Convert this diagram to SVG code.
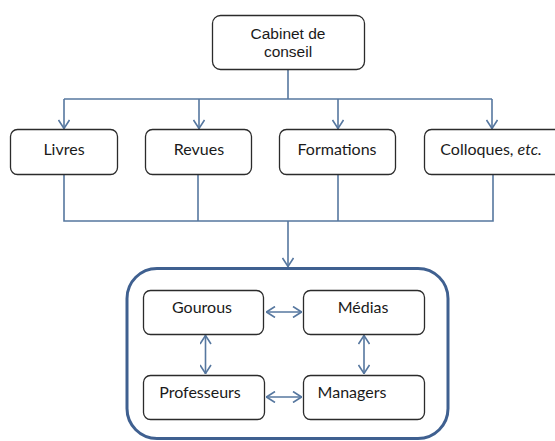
<svg xmlns="http://www.w3.org/2000/svg" width="555" height="441" viewBox="0 0 555 441">
<style>
.box{fill:#fff;stroke:#2b2b2b;stroke-width:1.3}
.lbl{font-family:Lato,"Open Sans","Liberation Sans",sans-serif;font-size:16px;fill:#1a1a1a;text-anchor:middle}
.arial{font-family:"Liberation Sans",Arial,sans-serif;font-size:15.5px;fill:#1a1a1a;text-anchor:middle}
.con{fill:none;stroke:#56779f;stroke-width:1.6}
</style>
<defs>
<marker id="ah" viewBox="0 0 10 12" refX="10" refY="6" markerWidth="10" markerHeight="12" markerUnits="userSpaceOnUse" orient="auto-start-reverse">
<path d="M1,0.5 L9.5,6 L1,11.5" fill="none" stroke="#56779f" stroke-width="1.6"/>
</marker>
</defs>
<g id="connectors">
<path class="con" d="M288,69 V99"/>
<path class="con" d="M64,99 H492"/>
<path class="con" d="M64,99 V129" marker-end="url(#ah)"/>
<path class="con" d="M199,99 V129" marker-end="url(#ah)"/>
<path class="con" d="M338,99 V129" marker-end="url(#ah)"/>
<path class="con" d="M492,99 V129" marker-end="url(#ah)"/>
<path class="con" d="M64,174 V221 H493 V174"/>
<path class="con" d="M198,174 V221"/>
<path class="con" d="M338,174 V221"/>
<path class="con" d="M288,221 V267" marker-end="url(#ah)"/>
<path class="con" d="M266,312 H302" marker-start="url(#ah)" marker-end="url(#ah)"/>
<path class="con" d="M266,397 H302" marker-start="url(#ah)" marker-end="url(#ah)"/>
<path class="con" d="M205.5,335 V374" marker-start="url(#ah)" marker-end="url(#ah)"/>
<path class="con" d="M364,335 V374" marker-start="url(#ah)" marker-end="url(#ah)"/>
</g>
<g id="cabinet">
<rect class="box" x="212.5" y="15.5" width="152" height="54" rx="8"/>
<text class="arial" x="288" y="39">Cabinet de</text>
<text class="arial" x="288" y="57">conseil</text>
</g>
<g id="livres">
<rect class="box" x="10.5" y="129.5" width="107" height="45" rx="7"/>
<text class="lbl" x="64" y="155">Livres</text>
</g>
<g id="revues">
<rect class="box" x="145.5" y="129.5" width="106" height="45" rx="7"/>
<text class="lbl" x="199" y="155">Revues</text>
</g>
<g id="formations">
<rect class="box" x="279.5" y="129.5" width="116" height="45" rx="7"/>
<text class="lbl" x="337" y="155">Formations</text>
</g>
<g id="colloques">
<rect class="box" x="424.5" y="129.5" width="140" height="45" rx="7"/>
<text class="lbl" x="491" y="155">Colloques, <tspan font-style="italic">etc.</tspan></text>
</g>
<g id="groupe">
<rect x="127" y="268.5" width="321" height="170" rx="30" fill="none" stroke="#3f6090" stroke-width="3"/>
</g>
<g id="gourous">
<rect class="box" x="143.5" y="290.5" width="120" height="44" rx="7"/>
<text class="lbl" x="202" y="313">Gourous</text>
</g>
<g id="medias">
<rect class="box" x="303.5" y="290.5" width="121" height="44" rx="7"/>
<text class="lbl" x="363" y="313">Médias</text>
</g>
<g id="professeurs">
<rect class="box" x="143.5" y="375.5" width="121" height="44" rx="7"/>
<text class="lbl" x="200" y="398">Professeurs</text>
</g>
<g id="managers">
<rect class="box" x="303.5" y="375.5" width="121" height="44" rx="7"/>
<text class="lbl" x="352" y="398">Managers</text>
</g>
</svg>
